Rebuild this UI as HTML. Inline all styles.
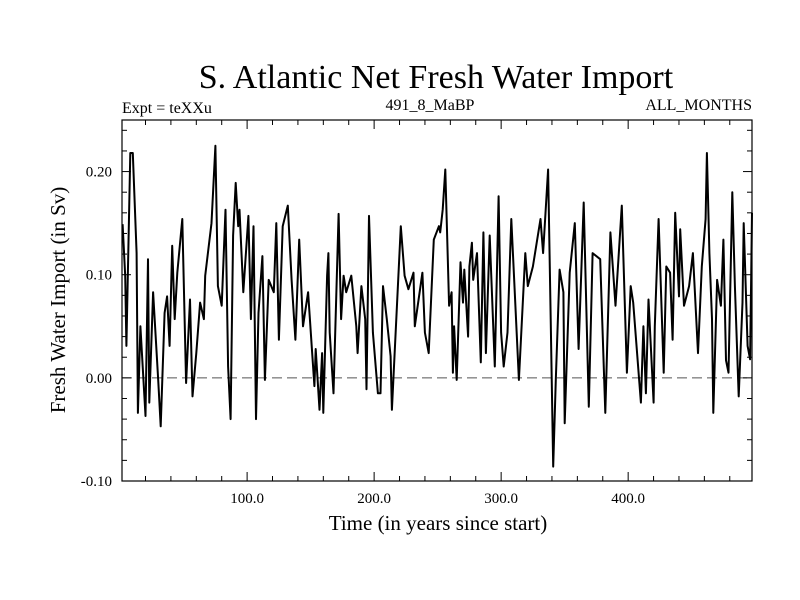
<!DOCTYPE html>
<html><head><meta charset="utf-8"><style>
body{margin:0;background:#fff}
svg{display:block;font-family:"Liberation Serif",serif}
</style></head><body>
<svg id="c" width="800" height="600">
<text x="436" y="88" font-size="34" text-anchor="middle">S. Atlantic Net Fresh Water Import</text>
<text x="122" y="113" font-size="16">Expt = teXXu</text>
<text x="430" y="110" font-size="16" text-anchor="middle">491_8_MaBP</text>
<text x="752" y="110" font-size="16" text-anchor="end">ALL_MONTHS</text>
<text x="438" y="530" font-size="21" text-anchor="middle">Time (in years since start)</text>
<text x="0" y="0" font-size="21" text-anchor="middle" transform="translate(65,300) rotate(-90)">Fresh Water Import (in Sv)</text>
<g id="g"></g>
</svg>
<script>
const years=[2,4,5,8,10,13,14,16,20,22,23,26,30,32,35,37,39,41,43,45,49,52,55,57,60,63,66,67,72,75,77,80,83,85,87,89,91,93,94,97,101,103,105,107,109,112,114,117,121,123,125,128,132,135,138,141,144,148,151,153,154,157,159,160,163,164,165,168,172,174,176,178,182,186,187,190,193,194,196,199,203,205,207,210,213,214,221,224,227,231,232,238,240,243,247,251,252,254,256,259,261,262,263,265,268,270,271,274,275,277,278,281,284,286,288,291,295,298,300,302,305,308,314,319,321,325,331,333,337,339,341,343,346,349,350,354,358,361,365,367,369,372,378,382,386,390,395,399,402,404,410,412,414,416,420,421,424,428,430,433,435,437,440,441,444,448,451,455,458,461,462,464,466,467,470,473,475,477,479,482,484,487,490,491,494,496,497.5];
const values=[0.149,0.099,0.031,0.218,0.218,0.121,-0.034,0.050,-0.037,0.115,-0.024,0.083,-0.002,-0.047,0.063,0.079,0.031,0.128,0.057,0.102,0.154,-0.005,0.076,-0.018,0.024,0.073,0.057,0.099,0.150,0.225,0.089,0.070,0.163,0.011,-0.040,0.138,0.189,0.147,0.163,0.083,0.157,0.057,0.147,-0.040,0.063,0.118,-0.002,0.095,0.083,0.150,0.037,0.147,0.167,0.095,0.037,0.134,0.050,0.083,0.028,-0.008,0.028,-0.031,0.024,-0.034,0.099,0.121,0.044,-0.015,0.159,0.057,0.099,0.083,0.099,0.050,0.024,0.089,0.057,-0.011,0.157,0.044,-0.015,-0.015,0.089,0.057,0.021,-0.031,0.147,0.099,0.086,0.102,0.050,0.102,0.044,0.024,0.134,0.147,0.141,0.163,0.202,0.070,0.083,0.005,0.050,-0.002,0.112,0.073,0.105,0.040,0.108,0.131,0.095,0.121,0.015,0.141,0.024,0.138,0.011,0.176,0.044,0.011,0.044,0.154,-0.002,0.121,0.089,0.108,0.154,0.121,0.202,0.057,-0.086,-0.002,0.105,0.083,-0.044,0.102,0.150,0.028,0.170,0.073,-0.028,0.121,0.115,-0.034,0.141,0.070,0.167,0.005,0.089,0.073,-0.024,0.050,-0.015,0.076,-0.024,0.050,0.154,0.005,0.108,0.102,0.037,0.160,0.079,0.144,0.070,0.089,0.121,0.024,0.108,0.154,0.218,0.121,0.057,-0.034,0.095,0.070,0.134,0.017,0.005,0.180,0.089,-0.018,0.073,0.150,0.031,0.018,0.160];
const xTicks=[100,200,300,400];
const xTickLabels=["100.0","200.0","300.0","400.0"];
const yTicks=[-0.1,0,0.1,0.2];
const yTickLabels=["-0.10","0.00","0.10","0.20"];
const L=122,R=752,T=120,B=481;
const xMin=1.5,xMax=497.5,yMin=-0.1,yMax=0.25;
const sx=v=>L+(v-xMin)/(xMax-xMin)*(R-L);
const sy=v=>B-(v-yMin)/(yMax-yMin)*(B-T);
const g=document.getElementById('g');
const NS='http://www.w3.org/2000/svg';
function mk(t,a){const e=document.createElementNS(NS,t);for(const k in a)e.setAttribute(k,a[k]);g.appendChild(e);return e;}
let e=mk('line',{x1:L,x2:R,y1:sy(0),y2:sy(0),stroke:'#555','stroke-width':1,'stroke-dasharray':'10,5'});


let d=years.map((y,i)=>(i?'L':'M')+sx(y).toFixed(1)+','+sy(values[i]).toFixed(1)).join('');
e=mk('path',{d:d,fill:'none',stroke:'#000','stroke-width':2,'stroke-linejoin':'round'});


e=mk('rect',{x:L,y:T,width:R-L,height:B-T,fill:'none',stroke:'#000','stroke-width':1.2});


for(let v=20;v<xMax;v+=20){const big=v%100===0,len=big?9:5,x=sx(v);
 e=mk('line',{x1:x,x2:x,y1:B,y2:B-len,stroke:'#000'});
 
 
 e=mk('line',{x1:x,x2:x,y1:T,y2:T+len,stroke:'#000'});
 
 }
for(let k=-5;k<=12;k++){const v=k*0.02,big=k%5===0,len=big?9:5,y=sy(v);
 e=mk('line',{x1:L,x2:L+len,y1:y,y2:y,stroke:'#000'});
 
 
 e=mk('line',{x1:R,x2:R-len,y1:y,y2:y,stroke:'#000'});
 
 }
xTicks.forEach((v,i)=>{e=mk('text',{x:sx(v),y:B+22,'font-size':15,'text-anchor':'middle'});e.textContent=xTickLabels[i];
 
 });
yTicks.forEach((v,i)=>{e=mk('text',{x:112,y:sy(v)+5,'font-size':15,'text-anchor':'end'});e.textContent=yTickLabels[i];
 
 });
</script>
</body></html>
